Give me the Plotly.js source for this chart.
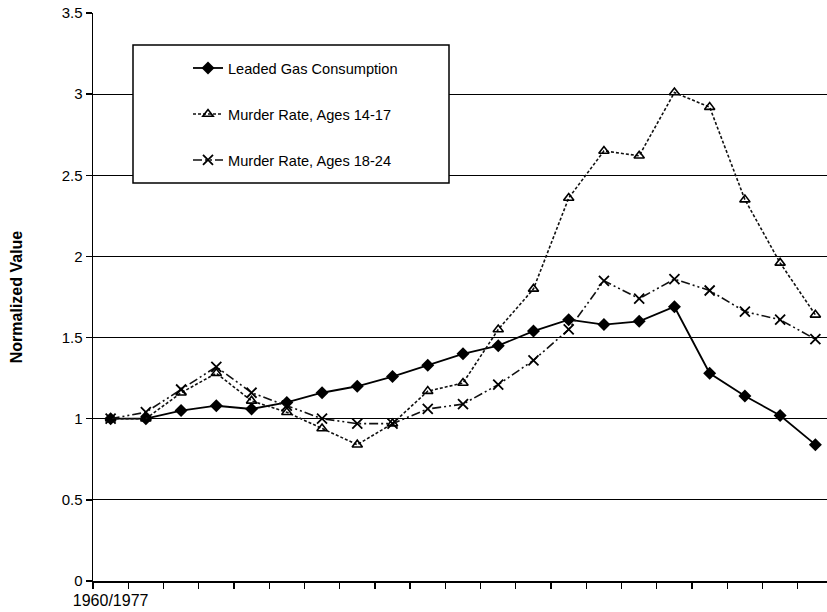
<!DOCTYPE html>
<html>
<head>
<meta charset="utf-8">
<script src="https://cdn.plot.ly/plotly-3.0.1.min.js"></script>
<style>html,body{margin:0;padding:0;background:#fff;}#chart{width:827px;height:612px;}</style>
</head>
<body>
<div id="chart"></div>
<script>
// Periods (leaded gas year / murder year, 17-year lag)
var periods = ["1960/1977","1961/1978","1962/1979","1963/1980","1964/1981","1965/1982","1966/1983",
  "1967/1984","1968/1985","1969/1986","1970/1987","1971/1988","1972/1989","1973/1990","1974/1991",
  "1975/1992","1976/1993","1977/1994","1978/1995","1979/1996","1980/1997"];
var tickLabels = ["1960/1977","","","","","","","","","","","","","","","","","","","",""];

var seriesNames = ["Leaded Gas Consumption", "Murder Rate, Ages 14-17", "Murder Rate, Ages 18-24"];
var leadedGas = [1.00,1.00,1.05,1.08,1.06,1.10,1.16,1.20,1.26,1.33,1.40,1.45,1.54,1.61,1.58,1.60,1.69,1.28,1.14,1.02,0.84];
var murder1417 = [1.00,1.00,1.16,1.28,1.11,1.04,0.94,0.84,0.97,1.17,1.22,1.55,1.80,2.36,2.65,2.62,3.01,2.92,2.35,1.96,1.64];
var murder1824 = [1.00,1.04,1.18,1.32,1.16,1.08,1.00,0.97,0.97,1.06,1.09,1.21,1.36,1.55,1.85,1.74,1.86,1.79,1.66,1.61,1.49];
var yTicks = [0,0.5,1,1.5,2,2.5,3,3.5];

var FONT = "Liberation Sans, Arial, sans-serif";

var traces = [
  {x: periods, y: leadedGas, name: seriesNames[0], type: "scatter", mode: "lines+markers",
   legendgroup: "g1",
   line: {color: "#000", width: 1.8},
   marker: {symbol: "diamond", size: 10, color: "#000"}},
  {x: periods, y: murder1417, name: seriesNames[1], type: "scatter", mode: "lines+markers",
   legendgroup: "g2",
   line: {color: "#111", width: 1.6, dash: "3px,2px"},
   marker: {symbol: "triangle-up-open", size: 9, color: "#000", line: {width: 1.6, color: "#000"}}},
  {x: periods, y: murder1824, name: seriesNames[2], type: "scatter", mode: "lines+markers",
   legendgroup: "g3",
   line: {color: "#111", width: 1.6, dash: "9px,3px,2px,3px,2px,3px"},
   marker: {symbol: "x-thin-open", size: 10, color: "#000", line: {width: 1.8, color: "#000"}}}
];

var L = 93, R = 0, T = 13, B = 31, W = 827, H = 612;
var pw = W - L - R, ph = H - T - B;
function px2x(px){ return (px - L) / pw; }
function px2y(py){ return (H - B - py) / ph; }

var layout = {
  width: W, height: H,
  margin: {l: L, r: R, t: T, b: B},
  paper_bgcolor: "#fff", plot_bgcolor: "#fff",
  font: {family: FONT, size: 15, color: "#000"},
  showlegend: true,
  legend: {
    x: px2x(188), y: px2y(52), xanchor: "left", yanchor: "top",
    bgcolor: "rgba(0,0,0,0)", borderwidth: 0,
    font: {family: FONT, size: 14.6, color: "#000"},
    traceorder: "grouped", tracegroupgap: 24
  },
  xaxis: {
    type: "category",
    range: [-0.5, 20.33],
    tickmode: "array", tickvals: periods, ticktext: tickLabels,
    tickson: "boundaries", tickangle: 0, ticklabelstandoff: 4,
    ticks: "outside", ticklen: 6, tickwidth: 1.3, tickcolor: "#000",
    showline: true, linecolor: "#000", linewidth: 1.5,
    showgrid: false, zeroline: false,
    tickfont: {family: FONT, size: 16, color: "#000"},
    fixedrange: true
  },
  yaxis: {
    range: [0, 3.5],
    tickmode: "array", tickvals: yTicks,
    ticks: "outside", ticklen: 6, tickwidth: 1.3, tickcolor: "#000",
    showline: true, linecolor: "#000", linewidth: 1.5,
    showgrid: true, gridcolor: "#000", gridwidth: 1,
    zeroline: false,
    tickfont: {family: FONT, size: 15, color: "#000"},
    title: {text: "<b>Normalized Value</b>", font: {family: FONT, size: 16, color: "#000"}, standoff: 35},
    automargin: false,
    fixedrange: true
  },
  shapes: [
    {type: "rect", xref: "paper", yref: "paper", layer: "above",
     x0: px2x(133), x1: px2x(449), y0: px2y(183), y1: px2y(45),
     line: {color: "#000", width: 1.5}, fillcolor: "#fff"}
  ]
};

Plotly.newPlot("chart", traces, layout, {displayModeBar: false, staticPlot: true});
</script>
</body>
</html>
